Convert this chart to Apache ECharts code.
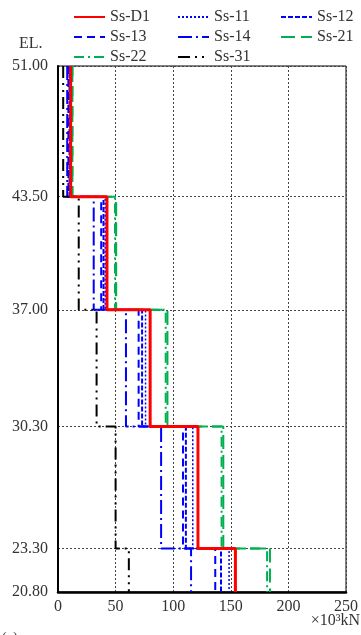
<!DOCTYPE html>
<html>
<head>
<meta charset="utf-8">
<script src="https://cdn.jsdelivr.net/npm/echarts@6/dist/echarts.min.js"></script>
<style>
  html, body { margin: 0; padding: 0; background: #fff; }
  #chart { width: 361px; height: 635px; }
</style>
</head>
<body>
<div id="chart"></div>
<script>
// Elevation boundaries (EL.), top to bottom
const levels = [51.00, 43.50, 37.00, 30.30, 23.30, 20.80];
// Horizontal axis ticks (×10³kN)
const xTicks = [0, 50, 100, 150, 200, 250];

// Section force per elevation band, top band first (×10³kN)
const ssD1 = [11.0, 42.5, 80.0, 121.5, 154.0];
const ss11 = [10.5, 41.0, 76.0, 117.0, 148.5];
const ss12 = [10.0, 39.5, 73.0, 111.0, 141.5];
const ss13 = [9.0, 37.5, 70.0, 108.5, 136.5];
const ss14 = [8.0, 31.0, 59.0, 89.5, 115.5];
const ss21 = [12.5, 50.5, 95.0, 143.5, 184.0];
const ss22 = [12.5, 49.5, 93.5, 142.0, 181.5];
const ss31 = [4.5, 18.0, 33.5, 50.0, 61.5];

const FONT = 'Liberation Serif';
const BLUE = '#0000ff', GREEN = '#00b050', RED = '#ff0000', BLACK = '#000000';

// Turn band values into a stepped profile: constant inside each band,
// horizontal jump at each boundary.
function steps(vals) {
  const pts = [];
  vals.forEach((v, i) => {
    pts.push([v, levels[i]]);
    pts.push([v, levels[i + 1]]);
  });
  return pts;
}

const defs = [
  { name: 'Ss-11', vals: ss11, color: BLUE,  width: 1.5, type: [2, 2] },
  { name: 'Ss-12', vals: ss12, color: BLUE,  width: 2,   type: [5, 2] },
  { name: 'Ss-13', vals: ss13, color: BLUE,  width: 2,   type: [8, 5] },
  { name: 'Ss-14', vals: ss14, color: BLUE,  width: 2,   type: [14, 4, 2, 4] },
  { name: 'Ss-21', vals: ss21, color: GREEN, width: 2,   type: [14, 6] },
  { name: 'Ss-22', vals: ss22, color: GREEN, width: 2,   type: [10, 4, 2, 4] },
  { name: 'Ss-31', vals: ss31, color: BLACK, width: 2,   type: [12, 5, 2, 5, 2, 5] },
  { name: 'Ss-D1', vals: ssD1, color: RED,   width: 3,   type: 'solid' }
];

const series = defs.map(d => ({
  name: d.name,
  type: 'line',
  data: steps(d.vals),
  symbol: 'none',
  animation: false,
  color: d.color,
  lineStyle: { color: d.color, width: d.width, type: d.type }
}));

const legendText = { fontFamily: FONT, fontSize: 16, color: '#333' };
function legendCol(left, names) {
  return {
    orient: 'vertical',
    left: left,
    top: 9,
    itemWidth: 31,
    itemHeight: 14,
    itemGap: 4,
    padding: 0,
    selectedMode: false,
    itemStyle: { opacity: 0 },
    textStyle: legendText,
    data: names
  };
}

const chart = echarts.init(document.getElementById('chart'));
chart.setOption({
  backgroundColor: '#fff',
  animation: false,
  legend: [
    legendCol(73, ['Ss-D1', 'Ss-13', 'Ss-22']),
    legendCol(177, ['Ss-11', 'Ss-14', 'Ss-31']),
    legendCol(280, ['Ss-12', 'Ss-21'])
  ],
  grid: {
    left: 58, right: 12, top: 66, bottom: 43,
    show: true, borderColor: '#000', borderWidth: 1
  },
  xAxis: {
    type: 'value',
    min: xTicks[0],
    max: xTicks[xTicks.length - 1],
    interval: xTicks[1] - xTicks[0],
    axisLine: { onZero: false, lineStyle: { color: '#000', width: 2.5 } },
    axisTick: { show: false },
    axisLabel: { fontFamily: FONT, fontSize: 16, color: '#333', margin: 7 },
    splitLine: { show: true, lineStyle: { color: '#444', width: 1, type: [2, 2] } }
  },
  yAxis: {
    type: 'value',
    min: levels[levels.length - 1],
    max: levels[0],
    axisLine: { onZero: false, lineStyle: { color: '#000', width: 2 } },
    axisTick: { show: false, customValues: levels },
    axisLabel: {
      customValues: levels,
      fontFamily: FONT, fontSize: 16, color: '#333', margin: 10,
      formatter: v => v.toFixed(2)
    },
    splitLine: { show: true, lineStyle: { color: '#444', width: 1, type: [2, 2] } }
  },
  graphic: [
    { type: 'text', left: 19, top: 36, style: { text: 'EL.', font: '16px "Liberation Serif"', fill: '#333' } },
    { type: 'text', right: 1, top: 613, style: { text: '×10³kN', font: '16px "Liberation Serif"', fill: '#333' } },
    { type: 'text', left: 2, top: 631, style: { text: '(a)', font: '14px "Liberation Serif"', fill: '#333' } }
  ],
  series: series
});
</script>
</body>
</html>
